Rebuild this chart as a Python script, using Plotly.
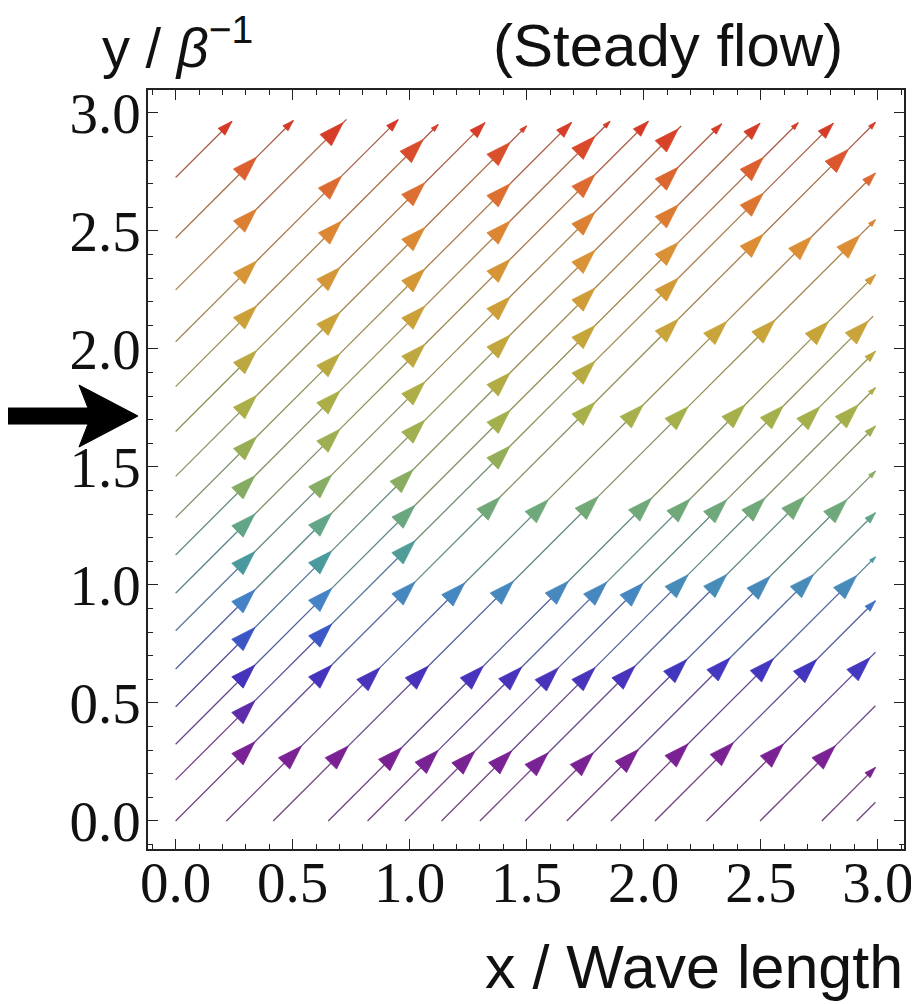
import plotly.graph_objects as go
from plotly.colors import sample_colorscale, unlabel_rgb, label_rgb

# flow direction (dy/dx) of every streamline
flow_slope = 0.99

# streamline start points and end x (diagonal from origin, from left edge, from bottom edge)
stream_x0 = [0.0,
             0.0, 0.0, 0.0, 0.0, 0.0, 0.0, 0.0, 0.0, 0.0, 0.0, 0.0, 0.0, 0.0, 0.0, 0.0,
             0.217, 0.417, 0.652, 0.82, 0.98, 1.136, 1.3, 1.493, 1.671, 1.86, 2.048, 2.268, 2.497, 2.761, 2.91]
stream_y0 = [0.0,
             0.174, 0.325, 0.484, 0.644, 0.806, 0.965, 1.127, 1.285, 1.46, 1.65, 1.84, 2.03, 2.25, 2.47, 2.726,
             0.0, 0.0, 0.0, 0.0, 0.0, 0.0, 0.0, 0.0, 0.0, 0.0, 0.0, 0.0, 0.0, 0.0, 0.0]
stream_x1 = [2.99,
             2.81, 2.66, 2.497, 2.333, 2.16, 2.02, 1.856, 1.692, 1.50, 1.322, 1.122, 0.951, 0.73, 0.503, 0.241,
             2.99, 2.99, 2.99, 2.98, 2.99, 2.99, 2.99, 2.99, 2.99, 2.99, 2.99, 2.99, 2.99, 2.99, 2.99]

# x of the full-size arrowheads (tips) along each streamline
stream_tips = [
    [0.339, 0.667, 1.023, 1.386, 1.792, 2.148, 2.511, 2.874],
    [0.339, 0.667, 1.023, 1.429, 1.792, 2.148, 2.511],
    [0.339, 0.667, 1.023, 1.429, 1.792, 2.148, 2.511],
    [0.339, 0.667, 1.015, 1.429, 1.792, 2.148],
    [0.339, 0.667, 1.065, 1.429, 1.792, 2.148],
    [0.339, 0.667, 1.065, 1.429, 1.792, 2.148],
    [0.339, 0.702, 1.065, 1.429, 1.792],
    [0.339, 0.702, 1.065, 1.429, 1.792],
    [0.346, 0.702, 1.065, 1.429],
    [0.346, 0.702, 1.065, 1.429],
    [0.346, 0.702, 1.065],
    [0.346, 0.709, 1.058],
    [0.346, 0.709],
    [0.346, 0.716],
    [0.346],
    [],
    [0.538, 0.873, 1.236, 1.592, 1.998, 2.355, 2.718],
    [0.738, 1.080, 1.443, 1.806, 2.19, 2.561, 2.924],
    [0.966, 1.315, 1.678, 2.034, 2.433, 2.789],
    [1.122, 1.479, 1.842, 2.198, 2.597, 2.96],
    [1.279, 1.635, 1.998, 2.355, 2.753],
    [1.436, 1.792, 2.19, 2.518, 2.917],
    [1.592, 1.963, 2.355, 2.689],
    [1.785, 2.184, 2.54, 2.868],
    [1.977, 2.369, 2.725],
    [2.19, 2.554, 2.91],
    [2.383, 2.739],
    [2.597, 2.967],
    [2.818],
    [],
    [],
]
# relative size of the arrowhead at the end of each streamline (0 = none)
stream_end_head = [0.3,
                   0.65, 0.3, 0.7, 0.45, 0, 0.65, 0.3, 0.65, 0.3, 0.65, 0.3, 0.5, 0, 0.45, 0.6,
                   0.55, 0.3, 0.45, 0, 0.45, 0.3, 0.45, 0.3, 0.45, 0.25, 0.45, 0, 0, 0.45, 0]

x_ticks = [0.0, 0.5, 1.0, 1.5, 2.0, 2.5, 3.0]
y_ticks = [0.0, 0.5, 1.0, 1.5, 2.0, 2.5, 3.0]

rainbow = [[0.0, '#74228a'], [0.11, '#7a2294'], [0.225, '#4434be'], [0.28, '#3a5ac6'],
           [0.33, '#4684c6'], [0.383, '#4a9a9c'], [0.437, '#64a686'], [0.49, '#88ac62'],
           [0.587, '#a6b04a'], [0.707, '#c8a43a'], [0.827, '#dc8e34'], [0.933, '#dc6230'],
           [1.0, '#d43226']]
head_full = 26


def line_colour(y):
    r, g, b = unlabel_rgb(sample_colorscale(rainbow, [min(max(y / 3.0, 0), 1)])[0])
    return label_rgb((0.55 * r + 0.45 * 110, 0.55 * g + 0.45 * 110, 0.55 * b + 0.45 * 110))


fig = go.Figure()

head_x, head_y, head_size = [], [], []
for i in range(len(stream_x0)):
    x0, y0, x1 = stream_x0[i], stream_y0[i], stream_x1[i]
    breaks = [x0] + stream_tips[i] + [x1]
    for a, b in zip(breaks[:-1], breaks[1:]):
        ya = y0 + flow_slope * (a - x0)
        yb = y0 + flow_slope * (b - x0)
        fig.add_trace(go.Scatter(x=[a, b], y=[ya, yb], mode='lines',
                                 line=dict(color=line_colour((ya + yb) / 2), width=1.3),
                                 hoverinfo='skip', showlegend=False))
    for t in stream_tips[i]:
        head_x.append(t)
        head_y.append(y0 + flow_slope * (t - x0))
        head_size.append(head_full)
    if stream_end_head[i] > 0:
        head_x.append(x1)
        head_y.append(y0 + flow_slope * (x1 - x0))
        head_size.append(head_full * stream_end_head[i])

fig.add_trace(go.Scatter(x=head_x, y=head_y, mode='markers',
                         marker=dict(symbol='arrow', angle=45, size=head_size, color=head_y,
                                     colorscale=rainbow, cmin=0, cmax=3, opacity=1,
                                     line=dict(width=0.8, color=head_y, colorscale=rainbow,
                                               cmin=0, cmax=3)),
                         hoverinfo='skip', showlegend=False))

axis_style = dict(showgrid=False, zeroline=False, showline=True, linecolor='#222', linewidth=1.5,
                  mirror='ticks', ticks='inside', ticklen=10, tickwidth=1.3, tickcolor='#222',
                  automargin=False, tickformat='.1f',
                  tickfont=dict(family='Liberation Serif', size=57, color='#111'),
                  minor=dict(ticks='inside', dtick=0.1, ticklen=5, tickwidth=1.1, tickcolor='#222'))

fig.update_xaxes(range=[-0.118, 3.112], tickvals=x_ticks, ticklabelstandoff=-17, **axis_style)
fig.update_yaxes(range=[-0.119, 3.097], tickvals=y_ticks, ticklabelstandoff=-6, **axis_style)


def px_to_paper(px, py):
    return (px - 148) / 756, (849 - py) / 759


# big black arrow pointing at the left axis
arrow_pts = [(4, 408), (88, 408), (79, 385), (138, 416), (79, 447), (88, 424), (4, 424)]
path = 'M ' + ' L '.join('%.4f,%.4f' % px_to_paper(px, py) for px, py in arrow_pts) + ' Z'
fig.add_shape(type='path', path=path, xref='paper', yref='paper', fillcolor='black',
              line=dict(color='black', width=1))

fig.add_annotation(text='y / <i>β</i><sup>−1</sup>', xref='paper', yref='paper', x=-0.064, y=1.061,
                   xanchor='left', yanchor='middle', showarrow=False,
                   font=dict(family='Liberation Sans', size=56, color='#111'))
fig.add_annotation(text='(Steady flow)', xref='paper', yref='paper', x=0.922, y=1.059,
                   xanchor='right', yanchor='middle', showarrow=False,
                   font=dict(family='Liberation Sans', size=60, color='#111'))
fig.add_annotation(text='x / Wave length', xref='paper', yref='paper', x=1.001, y=-0.156,
                   xanchor='right', yanchor='middle', showarrow=False,
                   font=dict(family='Liberation Sans', size=61, color='#111'))

# the page adds an 8 px body margin, so the figure is 8 px smaller than the window
fig.update_layout(width=911, height=996, margin=dict(l=140, r=15, t=82, b=155),
                  plot_bgcolor='white', paper_bgcolor='white', showlegend=False)

fig.write_html("out.html")
